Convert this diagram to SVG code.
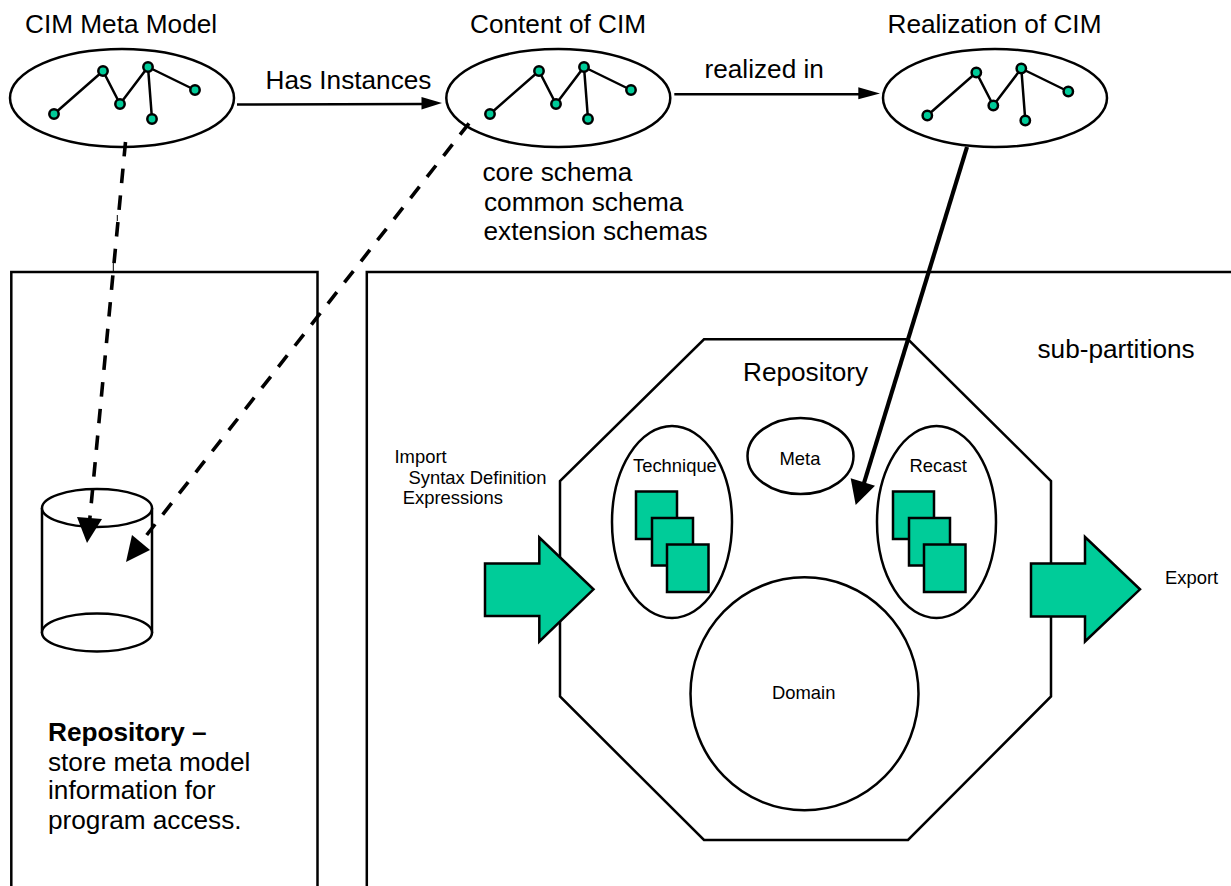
<svg xmlns="http://www.w3.org/2000/svg" width="1231" height="886" viewBox="0 0 1231 886">
<style>
text{font-family:"Liberation Sans",Arial,sans-serif;fill:#000}
.l{font-size:26.2px}
.s{font-size:18.4px}
.o{fill:#fff;stroke:#000;stroke-width:2.5}
.e{stroke:#000;stroke-width:2.5;fill:none}
.n{fill:#00cc99;stroke:#000;stroke-width:2.5}
.c{fill:none;stroke:#000;stroke-width:2.5}
.d{fill:none;stroke:#000;stroke-width:3.6;stroke-dasharray:14.5 12.3}
</style>
<defs>
<g id="net">
<path class="e" d="M54 114L103 71L120 104L148 67L152 119M148 67L195 90"/>
<circle class="n" cx="54" cy="114" r="4.7"/><circle class="n" cx="103" cy="71" r="4.7"/><circle class="n" cx="120" cy="104" r="4.7"/><circle class="n" cx="148" cy="67" r="4.7"/><circle class="n" cx="152" cy="119" r="4.7"/><circle class="n" cx="195" cy="90" r="4.7"/>
</g>
<g id="stack">
<rect class="n" width="41" height="47.5" x="0" y="0"/><rect class="n" width="41" height="47.5" x="16" y="26.5"/><rect class="n" width="41.500" height="47.5" x="31" y="53"/>
</g>
</defs>
<g id="panel-left"><path class="c" d="M11.300 886V272H317.500V886"/></g>
<g id="panel-right"><path class="c" d="M366.800 886V272H1231"/></g>
<g id="meta-model"><ellipse class="o" cx="122" cy="98" rx="112" ry="49"/><use href="#net"/><text class="l" x="25" y="33">CIM Meta Model</text></g>
<g id="content"><ellipse class="o" cx="558.300" cy="98" rx="112" ry="49"/><use href="#net" x="436"/><text class="l" x="470" y="33">Content of CIM</text>
<text class="l" x="482.500" y="180.700">core schema</text><text class="l" x="484" y="210.700">common schema</text><text class="l" x="483.500" y="239.500">extension schemas</text></g>
<g id="realization"><ellipse class="o" cx="995" cy="98" rx="112" ry="49"/><use href="#net" x="873.300" y="1.500"/><text class="l" x="887.500" y="33">Realization of CIM</text></g>
<g id="cylinder"><path class="o" d="M42 508V632H152V508"/><ellipse class="o" cx="97" cy="508" rx="55" ry="19"/><ellipse class="o" cx="97" cy="632.500" rx="55" ry="19"/></g>
<g id="repo-text"><text class="l" x="48" y="740.700" font-weight="bold">Repository –</text><text class="l" x="48" y="770.700">store meta model</text><text class="l" x="48" y="799">information for</text><text class="l" x="48" y="829">program access.</text></g>
<g id="octagon"><path class="o" d="M704 339.300H908L1051 481V696.500L908 840H704L560 696.500V481Z"/><text class="l" x="743" y="381">Repository</text></g>
<g id="technique"><ellipse class="o" cx="672" cy="522" rx="60" ry="96"/><text class="s" x="633" y="472">Technique</text><use href="#stack" x="636" y="491.500"/></g>
<g id="meta"><ellipse class="o" cx="800.500" cy="456" rx="53" ry="38"/><text class="s" x="779.500" y="465">Meta</text></g>
<g id="recast"><ellipse class="o" cx="936.500" cy="522" rx="59.500" ry="96"/><text class="s" x="909.500" y="472">Recast</text><use href="#stack" x="893" y="491.500"/></g>
<g id="domain"><ellipse class="o" cx="804.500" cy="693.800" rx="114" ry="116.500"/><text class="s" x="772" y="699.300">Domain</text></g>
<g id="import"><path class="n" d="M485 563.500H539.300V537.500L593.500 589.300L539.300 641.500V616H485Z"/><text class="s" x="394.500" y="462.700">Import</text><text class="s" x="408.500" y="484">Syntax Definition</text><text class="s" x="402.800" y="504">Expressions</text></g>
<g id="export"><path class="n" d="M1031 563.500H1085V537L1140 589.300L1085 641.500V616.500H1031Z"/><text class="s" x="1165" y="584">Export</text></g>
<text id="subpartitions" class="l" x="1037.500" y="357.700">sub-partitions</text>
<g id="connectors">
<path class="c" d="M237 104.500L424 104"/><path d="M442 103L421.500 97V109.500Z"/>
<text class="l" x="265.500" y="89">Has Instances</text>
<path class="c" d="M674.300 94.300H862"/><path d="M880 93.500L858.300 87.300V99.300Z"/>
<text class="l" x="704.500" y="78">realized in</text>
<path class="d" d="M125.500 142L89.700 520"/><path d="M87 543L77 517L102 519Z"/>
<path fill="none" stroke="#000" stroke-width="1" d="M117.300 215V221M113.300 263V272"/>
<path class="d" d="M469 123.300L146.700 535"/><path d="M150 550L132 535L126 562Z"/>
<path fill="none" stroke="#000" stroke-width="4.200" d="M967 147L864 483"/><path d="M855.700 505L850.700 478.300L875 485.700Z"/>
</g>
</svg>
